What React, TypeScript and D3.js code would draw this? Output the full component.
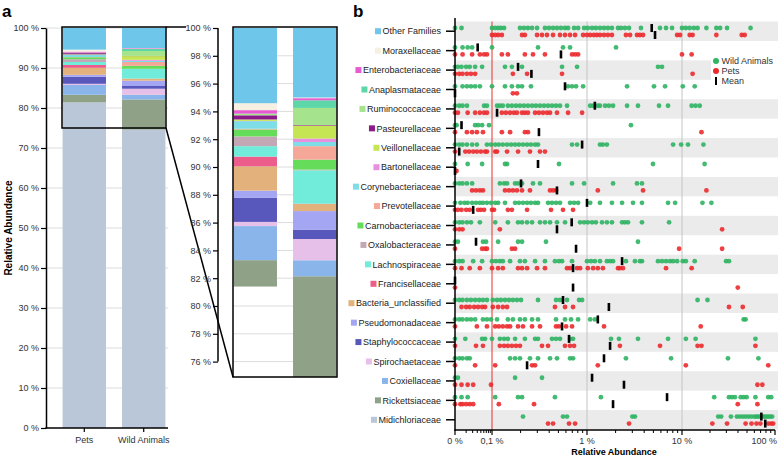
import React, { useEffect, useRef } from "react";
import * as d3 from "d3";

// families, top to bottom as listed in panel b
const families = [
  "Other Families", "Moraxellaceae", "Enterobacteriaceae", "Anaplasmataceae",
  "Ruminococcaceae", "Pasteurellaceae", "Veillonellaceae", "Bartonellaceae",
  "Corynebacteriaceae", "Prevotellaceae", "Carnobacteriaceae", "Oxalobacteraceae",
  "Lachnospiraceae", "Francisellaceae", "Bacteria_unclassified", "Pseudomonadaceae",
  "Staphylococcaceae", "Spirochaetaceae", "Coxiellaceae", "Rickettsiaceae", "Midichloriaceae",
];

const familyColors = [
  "#6ec6ea", "#f5f0e1", "#e75bd0", "#5dd6a8", "#a6e38d", "#8b1a8b", "#c6e552",
  "#e890e0", "#7edde6", "#f5a898", "#66dd5a", "#c4a7b4", "#72ecda", "#ec5d8c",
  "#e2b17c", "#a4a6f3", "#5757bc", "#e6c0e8", "#8ab5ea", "#8fa288", "#b9c7d8",
];

const groups = ["Pets", "Wild Animals"];

// mean relative abundance (%) per group, same order as families
const petsShare = [5.41, 0.5, 0.25, 0.02, 0.1, 0.3, 0.1, 0.02, 0.55, 0.05, 0.5, 0.7, 0.75, 0.7, 1.75, 0.5, 1.75, 0.3, 2.45, 1.9, 81.4];
const wildShare = [5.0, 0.05, 0.15, 0.55, 1.23, 0.04, 0.93, 0.25, 0.3, 0.97, 0.72, 0.05, 2.4, 0.02, 0.51, 1.33, 0.68, 1.53, 1.15, 7.54, 74.6];

// per-sample relative abundance (%), one list per family
const wildDots = [
  [0, 0.015, 0.1, 0.108, 0.116, 0.124, 0.134, 0.197, 0.217, 0.239, 0.264, 0.298, 0.361, 0.398, 0.439, 0.483, 0.532, 0.587, 0.632, 0.731, 0.806, 0.932, 1.02, 1.13, 1.24, 1.37, 1.51, 1.66, 1.83, 2.12, 2.28, 2.51, 2.77, 3.7, 5.87, 6.79, 7.86, 10, 11, 12.1, 13.4, 14.7, 18.3, 23.4, 25.7, 30.5, 54.6],
  [0, 0.016, 0.022, 0.029, 0.1, 0.305, 0.559, 0.663, 2.02],
  [0, 0.012, 0.015, 0.02, 0.025, 0.035, 0.054, 0.137, 0.162, 0.207, 0.546, 0.786, 5.59, 6.16],
  [0, 0.016, 0.021, 0.027, 0.035, 0.047, 0.1, 0.137, 0.162, 0.188, 0.207, 0.257, 0.632, 0.696, 0.767, 0.91, 2.64, 5.07, 6.63, 10.2, 13.7],
  [0, 0.013, 0.016, 0.021, 0.061, 0.073, 0.113, 0.121, 0.13, 0.147, 0.162, 0.179, 0.197, 0.217, 0.239, 0.264, 0.29, 0.32, 0.353, 0.389, 0.428, 0.472, 0.52, 0.616, 1.08, 1.16, 1.3, 1.37, 1.55, 1.7, 1.88, 2.64, 3.44, 5.73, 7.13, 12.7, 14, 15.5],
  [0, 0.011, 0.035, 0.042, 0.054, 0.083, 2.9],
  [0, 0.013, 0.016, 0.021, 0.029, 0.039, 0.073, 0.094, 0.108, 0.118, 0.13, 0.144, 0.159, 0.175, 0.192, 0.212, 0.234, 0.257, 0.284, 0.305, 0.696, 0.786, 1.37, 1.47, 1.62, 8.06, 9.79, 11.6, 17],
  [0, 0.022, 0.054, 0.137, 0.144, 0.507, 4.95, 17.5],
  [0, 0.013, 0.016, 0.021, 0.029, 0.121, 0.134, 0.144, 0.175, 0.188, 0.207, 0.27, 0.32, 0.696, 0.932, 1.88, 3.36, 3.79],
  [0, 0.014, 0.018, 0.022, 0.029, 0.037, 0.047, 0.057, 0.073, 0.094, 0.108, 0.116, 0.137, 0.175, 0.192, 0.212, 0.234, 0.257, 0.284, 0.305, 0.389, 0.428, 0.472, 0.52, 0.663, 0.731, 0.806, 1.08, 1.37, 1.83, 2.34, 3.05, 3.79, 7.13, 8.46, 16.6, 20.7],
  [0, 0.013, 0.016, 0.021, 0.027, 0.047, 0.108, 0.147, 0.188, 0.207, 0.234, 0.264, 0.32, 0.361, 0.408, 0.483, 0.587, 0.846, 0.932, 1.02, 1.13, 1.24, 1.44, 1.62, 1.83, 2.34, 2.51, 2.7, 3.79, 7.31],
  [0, 0.012, 0.057, 0.069, 0.116, 0.188, 0.207, 0.37, 3.44],
  [0, 0.013, 0.016, 0.031, 0.054, 0.1, 0.11, 0.121, 0.13, 0.155, 0.197, 0.222, 0.284, 0.361, 0.46, 0.507, 0.546, 0.696, 1, 1.1, 1.21, 1.37, 1.62, 1.75, 1.88, 2.57, 3.2, 3.61, 3.79, 5.59, 6.16, 6.79, 7.49, 8.06, 8.88, 10.2, 11, 13.7, 29.8, 32],
  [],
  [0, 0.013, 0.016, 0.021, 0.027, 0.035, 0.045, 0.057, 0.073, 0.102, 0.113, 0.124, 0.137, 0.151, 0.166, 0.183, 0.202, 0.305, 0.472, 0.52, 0.616, 0.825, 0.888, 14.7, 18.8],
  [0, 0.013, 0.016, 0.021, 0.027, 0.035, 0.057, 0.073, 0.094, 0.113, 0.147, 0.166, 0.197, 0.222, 0.264, 0.305, 0.472, 0.587, 0.679, 0.806, 1.08, 1.21, 46, 48.3],
  [0, 0.019, 0.054, 0.065, 0.1, 0.121, 0.134, 0.147, 0.175, 0.222, 0.284, 0.305, 0.428, 0.472, 0.52, 0.663, 0.713, 1.79, 2.17, 3.44, 7.13, 11, 14, 61.6],
  [0, 0.013, 0.016, 0.021, 0.025, 0.155, 0.175, 0.197, 0.251, 0.305, 0.408, 0.483, 0.663, 0.713, 2.57, 7.67, 31.2, 66.3],
  [0, 0.012, 0.175, 0.336],
  [0, 0.015, 0.022, 0.108, 0.188, 0.207, 0.46, 1.4, 22.2, 32, 34.4, 37, 42.8, 46, 49.5, 61.6, 84.6, 91],
  [0.212, 0.559, 0.616, 3.0, 3.2, 24.5, 26.4, 33.6, 38.9, 41.8, 45, 48.3, 52, 55.9, 60.2, 63.2, 66.3, 69.6, 73.1, 76.7, 80.6, 84.6, 88.8, 93.2],
];

const petsDots = [
  [0.1, 0.108, 0.116, 0.127, 0.207, 0.222, 0.298, 0.336, 0.379, 0.439, 0.52, 0.587, 0.663, 0.749, 0.91, 1, 1.08, 1.18, 1.27, 1.37, 1.51, 1.66, 1.83, 2.57, 2.84, 3.36, 3.61, 3.89, 8.88, 9.55, 12.1, 13, 23.4, 43.9, 47.2],
  [0, 0.016, 0.029, 0.047, 0.061, 0.073, 0.127, 0.147, 0.222, 0.27, 0.361, 0.696, 0.749, 0.806, 10, 12.7],
  [0, 0.013, 0.016, 0.021, 0.027, 0.035, 0.166, 0.234, 0.546, 13],
  [0.166, 0.183],
  [0, 0.012, 0.022, 0.035, 0.047, 0.061, 0.073, 0.127, 0.14, 0.155, 0.17, 0.183, 0.207, 0.222, 0.239, 0.284, 0.312, 0.344, 0.379, 0.408, 0.483, 0.632, 0.888],
  [0, 0.021, 0.029, 0.039, 0.057, 0.127, 0.155, 0.222, 0.239, 16.2],
  [0, 0.019, 0.024, 0.031, 0.039, 0.05, 0.065, 0.073, 0.108, 0.113, 0.144, 0.188, 0.251, 0.32, 0.361],
  [0.011],
  [0.029, 0.037, 0.047, 0.057, 0.137, 0.151, 0.166, 0.183, 0.207, 0.251, 0.408, 0.439, 0.472, 1.3, 3.89, 18.3],
  [0, 0.012, 0.015, 0.02, 0.025, 0.042, 0.05, 0.061, 0.1, 0.105, 0.147, 0.162, 0.234, 0.418, 0.559, 0.713],
  [0, 0.013, 0.016, 0.121, 27],
  [0, 0.054, 0.065, 0.073, 0.162, 0.175, 9.32, 27],
  [0, 0.015, 0.025, 0.047, 0.1, 0.116, 0.13, 0.188, 0.207, 0.234, 0.298, 0.361, 0.616, 0.663, 0.786, 0.846, 1.02, 1.16, 1.3, 1.47, 2.12, 2.22, 2.39, 6.79, 12.7],
  [0, 39.8],
  [0.015, 0.02, 0.025, 0.033, 0.042, 0.054, 0.065, 0.102, 0.116, 0.13, 0.144, 0.46, 0.587, 0.713, 32, 45],
  [0, 0.039, 0.073, 0.108, 0.118, 0.13, 0.144, 0.155, 0.188, 0.212, 0.264, 0.32, 0.472, 0.507, 0.602, 0.696, 1.51, 15.9],
  [0, 0.037, 0.057, 0.121, 0.134, 0.147, 0.162, 0.179, 0.197, 0.336, 0.389, 0.587, 0.663, 0.731, 2.22, 5.87, 14.7, 16.2, 61.6],
  [0, 0.035, 0.108, 0.264, 0.284, 1.3, 11, 84.6],
  [0, 0.015, 0.022, 0.031, 0.094, 64.7, 73.1],
  [0, 0.014, 0.016, 0.02, 0.025, 0.031, 0.118, 0.277, 39.8, 64.7],
  [0.389, 0.439, 0.647, 0.749, 2.77, 21.2, 30.5, 48.3, 55.9, 63.2, 69.6, 84.6, 91, 95.5],
];

const wildMeans = [4.8, 0.041, 0.188, 0.587, 1.21, 0.015, 0.888, 0.305, 0.202, 1.0, 0.69, 0.037, 2.34, 0, 0.559, 1.3, 0.647, 1.51, 1.13, 6.96, 71.3];
const petsMeans = [5.2, 0.532, 0.26, 0, 0.113, 0.312, 0.013, 0, 0.483, 0.031, 0.483, 0.767, 0.713, 0.713, 1.7, 0.546, 1.75, 0.234, 2.45, 1.88, 78.6];

const stackTicks = d3.range(0, 101, 10);
const zoomTicks = d3.range(76, 101, 2);
const logMajor = [0.01, 0.1, 1, 10, 100];
const logLabels = ["0 %", "0,1 %", "1 %", "10 %", "100 %"];

const WILD = "#2fb463";
const PET = "#ec2a2e";

const App = () => {
  const svgRef = useRef<SVGSVGElement>(null);

  useEffect(() => {
    const svg = d3.select(svgRef.current);
    svg.selectAll("*").remove();

    // ---------- panel a : stacked bars ----------
    const bottomUp = families.slice().reverse();
    const table = groups.map((g, gi) => {
      const row: any = { group: g };
      families.forEach((f, i) => (row[f] = (gi === 0 ? petsShare : wildShare)[i]));
      return row;
    });
    const series = d3.stack().keys(bottomUp)(table);
    const color = d3.scaleOrdinal<string, string>().domain(families).range(familyColors);

    const xa = d3.scaleBand().domain(groups).range([62, 166]).paddingInner(0.27).paddingOuter(0.01);
    const ya = d3.scaleLinear().domain([0, 100]).range([428, 28]);
    const xz = xa.copy().range([233, 337]);
    const yz = d3.scaleLinear().domain([75, 100]).range([375.5, 28]);

    const a = svg.append("g");

    // grid
    a.selectAll("line.grid")
      .data(stackTicks.slice(1))
      .join("line")
      .attr("x1", 46).attr("x2", 168)
      .attr("y1", (d) => ya(d)).attr("y2", (d) => ya(d))
      .attr("stroke", "#dcdcdc");

    a.selectAll("g.layer")
      .data(series)
      .join("g")
      .attr("fill", (d) => color(d.key))
      .selectAll("rect")
      .data((d) => d)
      .join("rect")
      .attr("x", (d: any) => xa(d.data.group)!)
      .attr("width", xa.bandwidth())
      .attr("y", (d) => ya(d[1]))
      .attr("height", (d) => ya(d[0]) - ya(d[1]));

    const yAxisA = a.append("g")
      .attr("transform", "translate(46,0)")
      .call(d3.axisLeft(ya).tickValues(stackTicks).tickSize(5).tickSizeOuter(0).tickPadding(2).tickFormat((d) => `${d} %`));
    yAxisA.attr("font-size", 9).attr("font-family", null);
    yAxisA.select(".domain").attr("stroke-width", 1.5);
    yAxisA.selectAll(".tick line").attr("stroke-width", 1.2);
    yAxisA.selectAll(".tick text").attr("fill", "#333");

    a.append("line").attr("x1", 45.3).attr("x2", 168).attr("y1", 428).attr("y2", 428)
      .attr("stroke", "#000").attr("stroke-width", 1.5);
    groups.forEach((g) => {
      const cx = xa(g)! + xa.bandwidth() / 2;
      a.append("line").attr("x1", cx).attr("x2", cx).attr("y1", 428).attr("y2", 432)
        .attr("stroke", "#000").attr("stroke-width", 1.2);
      a.append("text").attr("x", cx).attr("y", 443).attr("text-anchor", "middle")
        .attr("font-size", 9).attr("fill", "#333").text(g);
    });

    a.append("text")
      .attr("transform", `translate(12,${ya(50)}) rotate(-90)`)
      .attr("text-anchor", "middle").attr("font-size", 10).attr("font-weight", "bold")
      .text("Relative Abundance");

    // zoom frame + connectors
    a.append("rect").attr("x", 62).attr("y", ya(100) - 1).attr("width", 104).attr("height", ya(75) - ya(100) + 1)
      .attr("fill", "none").attr("stroke", "#000").attr("stroke-width", 1.5);
    a.append("line").attr("x1", 166).attr("x2", 186).attr("y1", ya(100) - 1).attr("y2", ya(100) - 1)
      .attr("stroke", "#000").attr("stroke-width", 1.5);
    a.append("line").attr("x1", 166).attr("x2", 233).attr("y1", ya(75)).attr("y2", yz(75) + 1.5)
      .attr("stroke", "#000").attr("stroke-width", 1.5);

    // zoomed panel (Midichloriaceae left out, as in the original)
    svg.append("defs").append("clipPath").attr("id", "zclip")
      .append("rect").attr("x", 233).attr("y", yz(100)).attr("width", 104).attr("height", yz(75) - yz(100) + 1.5);

    const z = svg.append("g");
    z.selectAll("line.zgrid")
      .data(zoomTicks.slice(0, -1))
      .join("line")
      .attr("x1", 233).attr("x2", 337)
      .attr("y1", (d) => yz(d)).attr("y2", (d) => yz(d))
      .attr("stroke", "#dcdcdc");

    z.append("g").attr("clip-path", "url(#zclip)")
      .selectAll("g")
      .data(series.filter((s) => s.key !== "Midichloriaceae"))
      .join("g")
      .attr("fill", (d) => color(d.key))
      .selectAll("rect")
      .data((d) => d)
      .join("rect")
      .attr("x", (d: any) => xz(d.data.group)!)
      .attr("width", xz.bandwidth())
      .attr("y", (d) => yz(d[1]))
      .attr("height", (d) => Math.max(0, yz(d[0]) - yz(d[1])));

    const zAxis = z.append("g").attr("transform", "translate(218,0)")
      .call(d3.axisLeft(yz).tickValues(zoomTicks).tickSize(5).tickSizeOuter(0).tickPadding(2).tickFormat((d) => `${d} %`));
    zAxis.attr("font-size", 9).attr("font-family", null);
    zAxis.select(".domain").remove();
    zAxis.selectAll(".tick line").attr("stroke-width", 1.2);
    zAxis.selectAll(".tick text").attr("fill", "#333");
    z.append("line").attr("x1", 218).attr("x2", 218).attr("y1", yz(100)).attr("y2", yz(76))
      .attr("stroke", "#000").attr("stroke-width", 1.5);

    z.append("rect").attr("x", 233).attr("y", yz(100) - 1).attr("width", 104).attr("height", yz(75) - yz(100) + 2.5)
      .attr("fill", "none").attr("stroke", "#000").attr("stroke-width", 1.5);

    // ---------- panel b : dot plot ----------
    const yb = d3.scaleBand().domain(families).range([21.5, 429.5]);
    const xb = d3.scaleLog().domain(logMajor).range([455, 492, 587, 682, 775]);
    const px = (v: number) => (v <= 0.01 ? xb(0.01) : xb(v));
    const b = svg.append("g");

    b.selectAll("rect.band")
      .data(families.filter((_, i) => i % 2 === 0))
      .join("rect")
      .attr("x", 455).attr("width", 323)
      .attr("y", (d) => yb(d)!).attr("height", yb.bandwidth())
      .attr("fill", "#ebebeb");

    b.append("line").attr("x1", xb(0.1)).attr("x2", xb(0.1)).attr("y1", 21.5).attr("y2", 430)
      .attr("stroke", "#e8302a").attr("stroke-width", 1);
    [1, 10].forEach((v) =>
      b.append("line").attr("x1", xb(v)).attr("x2", xb(v)).attr("y1", 21.5).attr("y2", 430)
        .attr("stroke", "#c4c4c4").attr("stroke-width", 1)
    );

    const cy = (f: string) => yb(f)! + yb.bandwidth() / 2;

    families.forEach((f, i) => {
      b.append("g").selectAll("circle")
        .data(wildDots[i])
        .join("circle")
        .attr("cx", (d) => px(d)).attr("cy", cy(f) - 3.2).attr("r", 2.4)
        .attr("fill", WILD).attr("fill-opacity", 0.9);
      b.append("g").selectAll("circle")
        .data(petsDots[i])
        .join("circle")
        .attr("cx", (d) => px(d)).attr("cy", cy(f) + 3.8).attr("r", 2.4)
        .attr("fill", PET).attr("fill-opacity", 0.9);
      b.append("rect").attr("x", px(wildMeans[i]) - 1.3).attr("y", cy(f) - 7.2).attr("width", 2.6).attr("height", 8).attr("fill", "#000");
      b.append("rect").attr("x", px(petsMeans[i]) - 1.3).attr("y", cy(f) - 0.2).attr("width", 2.6).attr("height", 8).attr("fill", "#000");
    });

    // y axis with family labels + swatches
    b.append("line").attr("x1", 455).attr("x2", 455).attr("y1", 18).attr("y2", 430.7)
      .attr("stroke", "#000").attr("stroke-width", 1.5);
    families.forEach((f, i) => {
      const y = cy(f);
      b.append("line").attr("x1", 446).attr("x2", 455).attr("y1", y).attr("y2", y)
        .attr("stroke", "#000").attr("stroke-width", 1.5);
      const t = b.append("text").attr("x", 441).attr("y", y + 3.2).attr("text-anchor", "end")
        .attr("font-size", 9).attr("fill", "#222").text(f);
      const w = (t.node() as SVGTextElement).getComputedTextLength();
      b.append("rect").attr("x", 441 - w - 7.5).attr("y", y - 3).attr("width", 6).attr("height", 6)
        .attr("fill", familyColors[i]);
    });

    // x axis (log)
    b.append("line").attr("x1", 454.3).attr("x2", 775).attr("y1", 430).attr("y2", 430)
      .attr("stroke", "#000").attr("stroke-width", 1.5);
    const minor: number[] = [];
    logMajor.slice(0, -1).forEach((d) => d3.range(2, 10).forEach((k) => minor.push(k * d)));
    b.selectAll("line.minor").data(minor).join("line")
      .attr("x1", (d) => xb(d)).attr("x2", (d) => xb(d)).attr("y1", 430).attr("y2", 433)
      .attr("stroke", "#000").attr("stroke-width", 1);
    b.selectAll("line.major").data(logMajor).join("line")
      .attr("x1", (d) => xb(d)).attr("x2", (d) => xb(d)).attr("y1", 430).attr("y2", 435)
      .attr("stroke", "#000").attr("stroke-width", 1.2);
    b.selectAll("text.xl").data(logMajor).join("text")
      .attr("x", (d, i) => (i === logMajor.length - 1 ? 777 : xb(d)))
      .attr("y", 444)
      .attr("text-anchor", (d, i) => (i === logMajor.length - 1 ? "end" : "middle"))
      .attr("font-size", 9).attr("fill", "#333")
      .text((d, i) => logLabels[i]);
    b.append("text").attr("x", 614).attr("y", 455).attr("text-anchor", "middle")
      .attr("font-size", 9).attr("font-weight", "bold").text("Relative Abundance");

    // legend
    const lg = b.append("g");
    lg.append("rect").attr("x", 711).attr("y", 53).attr("width", 67).attr("height", 34).attr("fill", "#fff");
    [["Wild Animals", WILD], ["Pets", PET]].forEach(([label, c], i) => {
      lg.append("circle").attr("cx", 716).attr("cy", 61 + i * 10).attr("r", 3).attr("fill", c);
      lg.append("text").attr("x", 721.5).attr("y", 64.3 + i * 10).attr("font-size", 9).attr("fill", "#333").text(label);
    });
    lg.append("rect").attr("x", 715).attr("y", 77).attr("width", 2).attr("height", 8).attr("fill", "#000");
    lg.append("text").attr("x", 721.5).attr("y", 84.3).attr("font-size", 9).attr("fill", "#333").text("Mean");

    // panel letters
    svg.append("text").attr("x", 2).attr("y", 17).attr("font-size", 17).attr("font-weight", "bold").text("a");
    svg.append("text").attr("x", 353).attr("y", 17).attr("font-size", 17).attr("font-weight", "bold").text("b");
  }, []);

  return (
    <svg
      ref={svgRef}
      width={778}
      height={457}
      style={{ position: "absolute", left: 0, top: 0, background: "#fff", fontFamily: "'Liberation Sans', Arial, Helvetica, sans-serif" }}
    ></svg>
  );
};

export default App;
